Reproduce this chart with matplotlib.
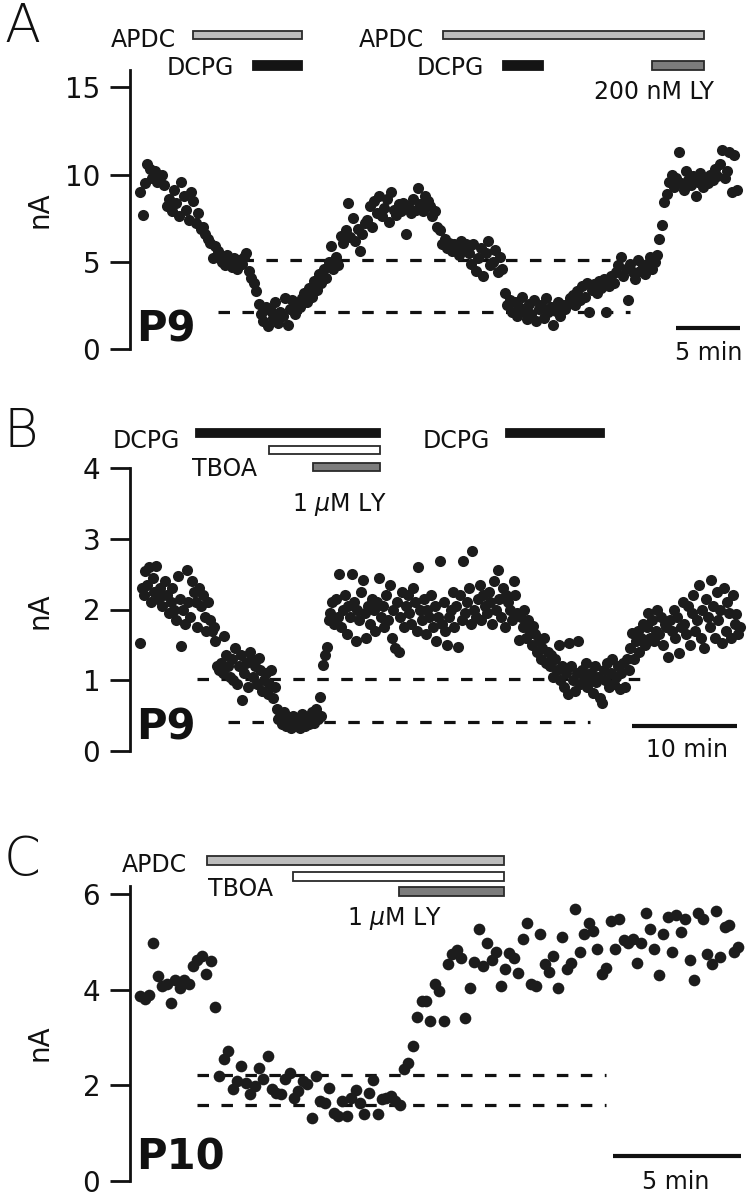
import numpy as np
import matplotlib.pyplot as plt
import matplotlib.transforms as mtransforms
from matplotlib.patches import Rectangle

plt.rcParams['font.family'] = ['DejaVu Sans']

W, H = 747, 1199
DOT = '#1c1c1c'

# ---------------- data (nA) ----------------
a_current = [
    9.0, 7.7, 9.5, 10.6, 10.3, 9.8, 10.2, 9.6, 9.9, 10.0, 9.4,
    8.2, 8.6, 7.9, 9.1, 8.4, 7.6, 9.6, 8.8, 8.0, 7.4, 9.0, 8.5,
    7.2, 7.8, 6.9, 7.0, 6.6, 6.3, 6.1, 5.2, 5.9, 5.6,
    5.3, 5.0, 4.8, 5.4, 5.0, 4.7, 5.2, 4.6, 5.1, 4.9, 5.3, 5.5,
    4.5, 4.1, 3.8, 3.3,
    2.6, 2.0, 1.6, 2.4, 1.3, 2.2, 1.8, 2.7, 1.5, 2.1, 1.9, 2.9, 1.4, 2.3, 2.8, 2.0, 2.6,
    2.4, 2.9, 3.2, 2.7, 3.5, 3.0, 3.9, 3.4, 4.3, 3.8, 4.6, 4.1,
    5.0, 5.9, 4.6, 5.3, 4.8, 6.5, 6.1, 6.8, 8.4, 6.4, 7.5, 6.2, 6.9, 5.6, 6.6,
    7.2, 7.4, 8.2, 7.0, 8.5, 7.8, 8.8, 7.6, 8.1, 8.6, 7.3, 9.0, 8.0, 7.7, 8.3, 7.9,
    8.4, 6.6, 8.2, 7.8, 8.6, 8.0, 9.25, 8.3, 7.9, 8.8, 8.5,
    8.2, 7.6, 7.9, 7.0, 6.8, 6.0,
    6.3, 5.8, 6.1, 5.6, 6.0, 5.9, 5.4, 6.2, 5.7, 6.0, 5.5, 4.9,
    6.0, 4.5, 5.2, 5.8, 4.2, 5.5, 6.2, 4.8, 5.0, 5.7, 4.4, 5.3, 4.6,
    3.2, 2.5, 2.8, 2.1, 2.7, 1.9, 2.4, 3.0, 2.2, 1.7, 2.6, 2.0, 2.8, 1.6, 2.3, 2.5,
    1.8, 2.9, 2.1, 2.4, 1.4, 2.2, 2.7, 1.9, 2.5, 2.3,
    2.6, 2.9, 3.1, 2.5, 3.3, 2.8, 3.6, 3.0, 3.8, 2.1, 3.4, 3.7, 3.2, 3.9, 3.5, 4.0,
    2.1, 3.6, 4.2, 3.8, 4.4,
    4.8, 5.3, 4.2, 4.6, 2.8, 4.9, 4.4, 4.0, 5.1, 4.5, 4.7, 4.3, 4.9, 5.3, 4.6, 5.0, 5.4,
    6.3, 7.1, 8.45, 8.9,
    9.6, 10.0, 9.3, 9.8, 11.3, 9.5, 9.1, 10.2, 9.7, 9.4, 9.9, 8.8, 9.6, 10.1, 9.3,
    9.8, 9.5, 10.0, 9.7, 10.3, 9.9, 10.6, 11.4, 9.8, 10.2, 11.3, 9.0, 11.1, 9.1,
]
a_t = np.linspace(0.8, 47.4, len(a_current))   # minutes, even sampling

b_current = [
    1.52, 2.3, 2.2, 2.55, 2.35, 2.6, 2.1, 2.45, 2.25, 2.62, 2.15, 2.3, 2.05, 2.2, 2.4,
    2.2, 1.95, 2.1, 2.3, 2.0, 1.85, 2.47, 2.15, 1.49, 2.0, 1.8, 2.56, 2.1, 1.9,
    2.4, 2.25, 2.1, 1.75, 2.3, 2.05, 2.2, 1.9, 1.7, 2.1, 1.85, 1.7,
    1.75, 1.55, 1.2, 1.15, 1.25, 1.1, 1.62, 1.35, 1.2, 1.05, 1.3,
    1.0, 1.45, 0.95, 1.2, 1.35, 0.72, 1.1, 1.25, 0.9, 1.4, 1.3, 1.05, 1.2, 0.95,
    1.32, 1.15, 0.85, 1.0, 1.1, 0.8, 0.95, 1.15, 0.75, 0.9,
    0.6, 0.45, 0.5, 0.38, 0.55, 0.35, 0.42, 0.48, 0.32, 0.5, 0.4, 0.36, 0.45,
    0.33, 0.52, 0.4, 0.35, 0.47, 0.38, 0.44, 0.55, 0.4, 0.6, 0.45, 0.77, 0.5,
    1.22, 1.35, 1.47, 1.85, 1.95,
    2.1, 1.8, 2.15, 1.9, 2.5, 1.75, 2.0, 2.2, 1.65, 2.05, 1.9, 2.5, 2.1, 1.55, 2.0,
    1.85, 2.25, 2.42, 1.95, 1.6, 2.05, 1.8, 2.15, 2.0, 1.7, 2.1, 2.45, 1.9, 2.05,
    1.75, 2.2, 1.85, 2.35, 1.6, 2.0, 1.45, 2.1, 1.4, 1.9, 2.25, 1.75, 2.05, 2.2,
    1.95, 1.8, 2.3, 2.1, 1.7, 2.6, 2.0, 1.85, 2.15, 1.65, 2.0, 1.9, 2.2, 1.75, 2.05,
    1.55, 1.9, 2.68,
    1.8, 2.1, 1.7, 1.5, 1.9, 2.0, 2.25, 1.75, 2.05, 1.47, 2.2, 1.85, 2.68, 1.95, 2.1,
    2.3, 1.8, 2.82, 2.0, 1.9, 2.15, 2.35, 1.85, 2.2, 2.05, 1.95, 2.25, 2.1, 1.8, 2.4,
    2.0, 2.56, 2.15, 1.9, 2.3, 1.75, 2.2, 2.1, 2.0, 1.85, 2.4, 2.2, 1.95, 1.57,
    1.9, 1.75, 2.0, 1.6, 1.85, 1.7, 1.5, 1.76, 1.65, 1.4, 1.55, 1.3, 1.45, 1.6,
    1.25, 1.4, 1.2, 1.35, 1.05, 1.3, 1.15, 1.5, 1.0, 1.2, 0.9, 1.1, 0.8, 1.53,
    1.2, 1.0, 0.85, 1.1, 1.55, 0.95, 1.15, 1.05, 1.25, 0.9, 1.0, 1.1, 0.82, 1.2,
    0.98, 1.05, 0.75, 0.68, 1.15, 1.0, 1.25, 0.9, 1.1, 1.3, 0.95, 1.05, 1.2, 0.88,
    1.1, 1.25, 0.9, 1.3, 1.15,
    1.45, 1.67, 1.3, 1.55, 1.7, 1.4, 1.6, 1.8, 1.5, 1.75, 1.95, 1.6, 1.85, 1.55,
    1.7, 2.0, 1.65, 1.9, 1.5, 1.8, 1.75, 1.33,
    1.85, 1.7, 2.0, 1.6, 1.9, 1.39, 1.75, 2.1, 1.8, 1.65, 2.05, 1.5, 1.95, 2.2, 1.7,
    1.85, 2.35, 1.6, 2.0, 1.45, 2.15, 1.9, 1.75, 2.42, 2.05, 1.6, 2.25, 1.85, 2.0,
    1.53, 2.3, 1.7, 2.1, 1.95, 1.6, 2.2, 1.8, 1.93, 1.65, 1.75,
]
b_t = np.linspace(0.95, 58.1, len(b_current))

c_current = [
    3.86, 3.8, 3.9, 4.97, 4.28, 4.07, 4.11, 3.72, 4.21, 4.03, 4.21, 4.13, 4.49,
    4.63, 4.7, 4.32, 4.6, 3.63, 2.19, 2.55, 2.71, 1.92, 2.09, 2.4, 2.05, 1.82,
    1.98, 2.36, 2.13, 2.61, 1.92, 1.84, 1.82, 2.13, 2.26, 1.73, 1.88, 2.09, 2.03,
    1.32, 2.19, 1.67, 1.63, 1.94, 1.42, 1.36, 1.67, 1.36, 1.73, 1.9, 1.63, 1.4,
    1.84, 2.11, 1.4, 1.71, 1.73, 1.77, 1.67, 1.6, 2.34, 2.47, 2.82, 3.44, 3.76,
    3.76, 3.34, 4.13, 3.97, 3.34, 4.53, 4.74, 4.84, 4.66, 3.4, 4.03, 4.59, 5.28,
    4.49, 4.97, 4.63, 4.8, 4.07, 4.43, 4.76, 4.66, 4.34, 5.07, 5.39, 4.11, 4.07,
    5.16, 4.53, 4.38, 4.7, 4.03, 5.11, 4.43, 4.55, 5.68, 4.78, 5.16, 5.39, 5.22,
    4.86, 4.32, 4.45, 5.43, 4.86, 5.49, 5.05, 4.97, 5.07, 4.55, 4.97, 5.6, 5.28,
    4.86, 4.3, 5.16, 5.53, 4.78, 5.57, 5.2, 5.47, 4.63, 4.2, 5.6, 5.47, 4.74,
    4.53, 5.64, 4.68, 5.32, 5.36, 4.8, 4.9,
]
c_t = np.linspace(0.4, 23.75, len(c_current))

# drug applications: (name, start min, end min)
a_drugs = [('APDC', 4.9, 13.4), ('DCPG', 9.6, 13.4),
           ('APDC', 24.45, 44.85), ('DCPG', 29.15, 32.25), ('LY', 40.8, 44.85)]
b_drugs = [('DCPG', 6.3, 23.8), ('TBOA', 13.25, 23.8), ('LY', 17.45, 23.8),
           ('DCPG', 35.8, 45.15)]
c_drugs = [('APDC', 3.0, 14.6), ('TBOA', 6.35, 14.6), ('LY', 10.5, 14.6)]

# baseline levels (nA) with their time span
a_levels = [(5.09, 6.9, 37.5), (2.13, 6.9, 39.1)]
b_levels = [(1.02, 6.4, 49.7), (0.41, 9.3, 43.8)]
c_levels = [(2.22, 2.6, 18.6), (1.58, 2.6, 18.6)]

bar_style = {
    'APDC': dict(facecolor='#bcbcbc', edgecolor='#2a2a2a'),
    'DCPG': dict(facecolor='#141414', edgecolor='#141414'),
    'TBOA': dict(facecolor='white', edgecolor='#2a2a2a'),
    'LY':   dict(facecolor='#7c7c7c', edgecolor='#2a2a2a'),
}

fig = plt.figure(figsize=(W / 100, H / 100), dpi=100)


def panel(top_px, zero_px, ymax, px_per_min, ticks):
    ax = fig.add_axes([130 / W, 1 - zero_px / H, 617 / W, (zero_px - top_px) / H])
    ax.set_xlim(0, 617 / px_per_min)
    ax.set_ylim(0, ymax)
    for s in ['top', 'right', 'bottom']:
        ax.spines[s].set_visible(False)
    ax.spines['left'].set_linewidth(2.0)
    ax.spines['left'].set_color('#111111')
    ax.set_xticks([])
    ax.set_yticks(ticks)
    ax.tick_params(axis='y', length=14.5, width=2.0, pad=7, labelsize=20,
                   color='#111111', labelcolor='#111111')
    ax.patch.set_alpha(0)
    return ax


def draw_bar(ax, name, start, end, yc_px, h_px=8.5):
    tr = mtransforms.blended_transform_factory(ax.transData, fig.transFigure)
    r = Rectangle((start, 1 - (yc_px + h_px / 2) / H), end - start, h_px / H,
                  transform=tr, clip_on=False, lw=1.3, **bar_style[name])
    ax.add_patch(r)


def ftext(xp, yp, s, **kw):
    kw.setdefault('fontsize', 17)
    kw.setdefault('color', '#111111')
    fig.text(xp / W, 1 - yp / H, s, **kw)


def levels(ax, lv):
    for y, t0, t1 in lv:
        ax.plot([t0, t1], [y, y], color='#111111', lw=2.3,
                linestyle=(0, (3.6, 3.9)), zorder=1)


def scalebar(ax, t0, length, y, label, lx, ly):
    ax.plot([t0, t0 + length], [y, y], color='#111111', lw=3,
            solid_capstyle='butt', clip_on=False)
    ftext(lx, ly, label, ha='center', va='center')


# ---------------- A ----------------
axA = panel(70, 349, 16, 12.8, [0, 5, 10, 15])
levels(axA, a_levels)
axA.plot(a_t, a_current, 'o', color=DOT, ms=8.0, mec='none', zorder=3)
rowsA = [35, 65.5, 35, 65.5, 65.5]
for (name, s, e), yc in zip(a_drugs, rowsA):
    draw_bar(axA, name, s, e, yc, 7 if yc < 50 else 9)
ftext(176, 40, 'APDC', ha='right', va='center')
ftext(234, 68, 'DCPG', ha='right', va='center')
ftext(424, 40, 'APDC', ha='right', va='center')
ftext(484, 68, 'DCPG', ha='right', va='center')
ftext(594, 92, '200 nM LY', ha='left', va='center')
scalebar(axA, 42.65, 5, 1.2, '5 min', 709, 353)
ftext(136, 341, 'P9', fontsize=30, fontweight='bold', ha='left', va='baseline')
ftext(40, 210, 'nA', fontsize=20, rotation=90, ha='center', va='center')
ftext(4, 27, 'A', fontsize=38, fontweight='light', ha='left', va='center')

# ---------------- B ----------------
axB = panel(468, 751, 4, 10.5, [0, 1, 2, 3, 4])
levels(axB, b_levels)
axB.plot(b_t, b_current, 'o', color=DOT, ms=8.0, mec='none', zorder=3)
rowsB = [433, 450, 467, 433]
for (name, s, e), yc in zip(b_drugs, rowsB):
    draw_bar(axB, name, s, e, yc, 8.5)
ftext(180, 441, 'DCPG', ha='right', va='center')
ftext(257, 469, 'TBOA', ha='right', va='center')
ftext(340, 505, r'1 $\mu$M LY', ha='center', va='center')
ftext(490, 441, 'DCPG', ha='right', va='center')
scalebar(axB, 47.8, 10, 0.36, '10 min', 687, 750)
ftext(136, 740, 'P9', fontsize=30, fontweight='bold', ha='left', va='baseline')
ftext(40, 611, 'nA', fontsize=20, rotation=90, ha='center', va='center')
ftext(4, 432, 'B', fontsize=38, fontweight='light', ha='left', va='center')

# ---------------- C ----------------
axC = panel(886, 1181, 6.17, 25.6, [0, 2, 4, 6])
levels(axC, c_levels)
axC.plot(c_t, c_current, 'o', color=DOT, ms=8.4, mec='none', zorder=3)
rowsC = [860, 876, 891]
for (name, s, e), yc in zip(c_drugs, rowsC):
    draw_bar(axC, name, s, e, yc, 9)
ftext(187, 865, 'APDC', ha='right', va='center')
ftext(273, 889, 'TBOA', ha='right', va='center')
ftext(395, 919, r'1 $\mu$M LY', ha='center', va='center')
scalebar(axC, 18.85, 5, 0.52, '5 min', 676, 1182)
ftext(136, 1170, 'P10', fontsize=30, fontweight='bold', ha='left', va='baseline')
ftext(40, 1043, 'nA', fontsize=20, rotation=90, ha='center', va='center')
ftext(4, 860, 'C', fontsize=38, fontweight='light', ha='left', va='center')

fig.savefig('out.png', dpi=100, facecolor='white')
